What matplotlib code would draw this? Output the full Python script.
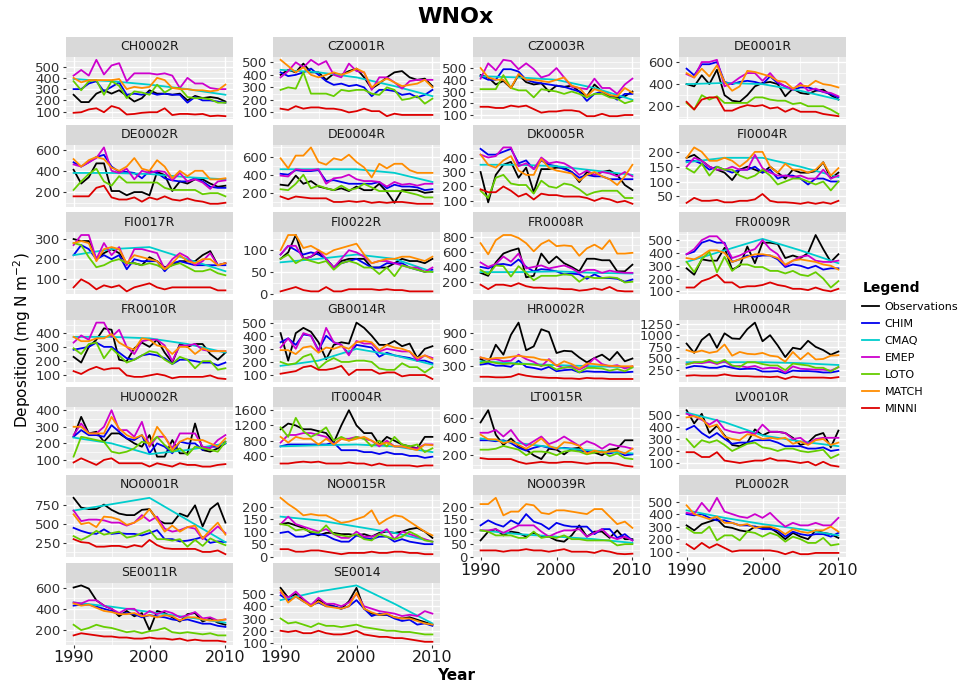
import matplotlib
matplotlib.use('Agg')
import matplotlib.pyplot as plt
from matplotlib.lines import Line2D

years = list(range(1990, 2011))
cmaq_years = [1990, 1995, 2000, 2005, 2010]

series = ['Observations', 'CHIM', 'CMAQ', 'EMEP', 'LOTO', 'MATCH', 'MINNI']
keys = ['obs', 'chim', 'cmaq', 'emep', 'loto', 'match', 'minni']
colors = ['black', '#0000EE', '#00CDCD', '#CD00CD', '#66CD00', '#FF8C00', '#DD0000']

CH0002R = dict(
    obs=[250, 185, 185, 260, 290, 260, 290, 240, 190, 220, 290, 260, 260, 250, 260, 200, 240, 220, 230, 220, 190],
    chim=[300, 300, 350, 370, 280, 320, 360, 250, 260, 250, 270, 250, 260, 250, 250, 180, 230, 200, 200, 190, 180],
    cmaq=[390, 370, 340, 300, 250],
    emep=[420, 470, 420, 560, 430, 510, 530, 370, 440, 440, 440, 430, 440, 420, 310, 400, 350, 350, 310, 300, 300],
    loto=[370, 290, 370, 380, 250, 370, 330, 220, 280, 270, 250, 340, 270, 310, 310, 230, 220, 220, 210, 180, 180],
    match=[400, 360, 380, 380, 380, 380, 390, 300, 320, 310, 320, 400, 380, 310, 300, 300, 290, 290, 280, 290, 340],
    minni=[90, 95, 120, 130, 95, 150, 130, 75, 80, 90, 95, 95, 130, 70, 80, 80, 75, 80, 60, 65, 60])
CZ0001R = dict(
    obs=[400, 440, 420, 490, 420, 420, 360, 410, 400, 430, 450, 380, 290, 330, 380, 420, 430, 380, 360, 370, 310],
    chim=[420, 390, 400, 420, 450, 400, 350, 320, 330, 310, 320, 300, 230, 280, 280, 270, 240, 250, 220, 240, 280],
    cmaq=[440, 420, 380, 310, 230],
    emep=[380, 430, 500, 460, 520, 480, 510, 400, 380, 490, 430, 420, 280, 380, 380, 340, 290, 350, 360, 360, 360],
    loto=[280, 300, 290, 420, 250, 250, 250, 230, 280, 270, 280, 280, 250, 240, 300, 280, 200, 210, 230, 170, 210],
    match=[520, 470, 420, 460, 400, 380, 400, 420, 400, 420, 450, 420, 300, 340, 370, 340, 310, 320, 330, 360, 300],
    minni=[130, 120, 150, 130, 140, 140, 130, 130, 120, 100, 110, 130, 110, 110, 70, 90, 80, 80, 80, 80, 80])
CZ0003R = dict(
    obs=[440, 420, 360, 390, 330, 440, 380, 360, 370, 300, 350, 340, 350, 300, 260, 360, 300, 260, 250, 260, 300],
    chim=[430, 400, 400, 490, 490, 470, 400, 380, 370, 360, 350, 340, 320, 300, 220, 280, 300, 270, 230, 280, 280],
    cmaq=[430, 420, 400, 330, 230],
    emep=[410, 540, 480, 570, 560, 490, 540, 490, 420, 440, 500, 420, 340, 330, 320, 410, 330, 330, 280, 360, 410],
    loto=[320, 320, 320, 440, 330, 310, 310, 250, 320, 310, 300, 280, 300, 280, 250, 280, 280, 250, 240, 200, 220],
    match=[500, 420, 400, 400, 330, 450, 400, 400, 390, 380, 400, 420, 350, 330, 260, 320, 300, 270, 260, 330, 290],
    minni=[170, 170, 160, 160, 180, 170, 180, 150, 120, 130, 130, 140, 140, 130, 90, 90, 110, 90, 90, 100, 100])
DE0001R = dict(
    obs=[400, 380, 480, 400, 530, 300, 250, 240, 300, 380, 410, 420, 400, 290, 360, 320, 310, 340, 350, 300, 260],
    chim=[540, 480, 580, 580, 600, 420, 400, 420, 430, 420, 400, 470, 410, 380, 350, 370, 370, 350, 330, 310, 280],
    cmaq=[400, 410, 400, 340, 260],
    emep=[490, 460, 600, 600, 620, 380, 410, 460, 500, 500, 430, 500, 420, 380, 350, 410, 340, 360, 330, 320, 290],
    loto=[230, 170, 300, 260, 290, 230, 230, 230, 230, 280, 280, 260, 250, 250, 220, 230, 200, 200, 200, 170, 130],
    match=[500, 460, 540, 470, 570, 420, 340, 380, 520, 510, 490, 470, 430, 420, 360, 390, 380, 430, 400, 390, 370],
    minni=[240, 170, 260, 280, 280, 160, 160, 190, 210, 200, 210, 180, 190, 150, 180, 150, 150, 150, 130, 120, 110])
DE0002R = dict(
    obs=[410, 280, 340, 470, 470, 210, 210, 170, 200, 200, 170, 390, 360, 210, 300, 280, 320, 320, 280, 250, 260],
    chim=[480, 440, 480, 530, 550, 440, 390, 390, 380, 330, 400, 380, 330, 310, 300, 300, 330, 300, 250, 240, 240],
    cmaq=[380, 380, 370, 340, 320],
    emep=[460, 440, 480, 520, 620, 400, 380, 420, 320, 400, 380, 400, 390, 310, 380, 300, 320, 290, 230, 300, 310],
    loto=[220, 300, 370, 420, 300, 260, 350, 290, 290, 290, 290, 290, 240, 220, 220, 220, 220, 180, 190, 190, 160],
    match=[510, 440, 500, 530, 510, 430, 400, 440, 520, 420, 400, 500, 440, 330, 400, 350, 400, 400, 320, 320, 330],
    minni=[160, 160, 160, 240, 260, 150, 130, 130, 150, 110, 150, 130, 160, 130, 120, 140, 120, 110, 90, 90, 100])
DE0004R = dict(
    obs=[290, 280, 390, 300, 330, 270, 250, 230, 250, 220, 270, 230, 230, 300, 210, 90, 230, 230, 230, 200, 210],
    chim=[410, 400, 450, 440, 440, 450, 330, 340, 320, 300, 300, 300, 300, 320, 250, 290, 270, 270, 260, 230, 240],
    cmaq=[460, 460, 460, 420, 320],
    emep=[390, 380, 460, 450, 450, 460, 300, 360, 370, 400, 350, 330, 330, 320, 270, 320, 290, 300, 280, 300, 300],
    loto=[240, 230, 300, 400, 250, 280, 250, 230, 280, 230, 250, 300, 260, 220, 220, 220, 220, 200, 180, 150, 150],
    match=[580, 470, 610, 610, 700, 540, 510, 580, 560, 620, 540, 480, 370, 520, 470, 520, 520, 450, 420, 420, 420],
    minni=[160, 130, 160, 150, 140, 140, 140, 100, 100, 110, 100, 110, 90, 100, 90, 100, 100, 90, 80, 80, 80])
DK0005R = dict(
    obs=[300, 90, 280, 350, 370, 260, 330, 160, 320, 320, 330, 330, 300, 230, 300, 280, 300, 310, 280, 210, 175],
    chim=[460, 420, 420, 440, 460, 360, 380, 320, 380, 350, 340, 320, 300, 260, 280, 270, 270, 250, 250, 250, 250],
    cmaq=[350, 350, 340, 310, 280],
    emep=[420, 400, 410, 470, 470, 340, 360, 320, 400, 360, 370, 360, 330, 280, 310, 280, 300, 290, 270, 300, 270],
    loto=[170, 120, 260, 280, 220, 210, 210, 150, 240, 200, 190, 220, 210, 180, 140, 160, 170, 170, 170, 120, 120],
    match=[420, 350, 330, 380, 410, 310, 280, 280, 390, 330, 310, 300, 290, 240, 280, 300, 270, 250, 210, 270, 350],
    minni=[180, 160, 160, 200, 170, 130, 150, 110, 150, 140, 140, 130, 130, 130, 120, 100, 120, 110, 90, 100, 80])
FI0004R = dict(
    obs=[180, 190, 170, 150, 140, 130, 105, 140, 150, 140, 130, 150, 130, 110, 140, 130, 130, 135, 165, 110, 130],
    chim=[170, 170, 160, 140, 150, 140, 130, 140, 140, 150, 130, 140, 110, 120, 120, 110, 90, 110, 110, 100, 100],
    cmaq=[165, 180, 180, 150, 115],
    emep=[150, 180, 170, 150, 140, 140, 150, 140, 140, 190, 145, 130, 120, 120, 115, 120, 110, 110, 140, 110, 120],
    loto=[145, 130, 160, 120, 150, 140, 140, 120, 110, 120, 140, 120, 90, 100, 110, 110, 100, 90, 100, 70, 100],
    match=[180, 215, 200, 170, 170, 180, 170, 150, 170, 200, 200, 150, 130, 160, 140, 140, 130, 140, 165, 120, 145],
    minni=[28, 45, 35, 35, 38, 30, 30, 35, 35, 40, 58, 35, 30, 30, 28, 25, 30, 25, 30, 25, 35])
FI0017R = dict(
    obs=[300, 290, 290, 200, 230, 250, 230, 180, 180, 170, 210, 190, 160, 170, 190, 190, 190, 220, 240, 170, 180],
    chim=[220, 270, 250, 200, 220, 200, 220, 150, 200, 190, 190, 190, 140, 180, 190, 180, 170, 170, 170, 170, 170],
    cmaq=[220, 250, 260, 200, 140],
    emep=[270, 320, 320, 200, 280, 220, 260, 170, 250, 250, 240, 230, 150, 200, 230, 210, 170, 190, 230, 170, 180],
    loto=[280, 270, 210, 160, 170, 190, 200, 180, 180, 170, 180, 170, 150, 170, 180, 160, 140, 140, 150, 130, 120],
    match=[280, 290, 280, 190, 250, 260, 250, 180, 220, 210, 200, 190, 150, 180, 220, 190, 180, 200, 200, 170, 180],
    minni=[60, 100, 80, 50, 70, 60, 70, 40, 60, 70, 80, 60, 50, 60, 60, 60, 60, 60, 60, 45, 45])
FI0022R = dict(
    obs=[80, 95, 135, 80, 85, 95, 80, 60, 75, 80, 80, 80, 60, 60, 60, 70, 80, 75, 75, 70, 80],
    chim=[90, 110, 100, 90, 95, 90, 80, 60, 70, 75, 80, 70, 60, 60, 70, 70, 70, 60, 55, 50, 55],
    cmaq=[72, 80, 90, 80, 50],
    emep=[90, 110, 110, 80, 85, 100, 80, 60, 80, 100, 95, 85, 70, 75, 75, 70, 65, 60, 60, 50, 60],
    loto=[80, 90, 70, 80, 75, 70, 75, 55, 70, 75, 70, 60, 60, 45, 60, 40, 65, 60, 55, 50, 50],
    match=[100, 135, 135, 105, 110, 100, 90, 100, 105, 110, 115, 90, 70, 75, 80, 80, 85, 85, 80, 75, 85],
    minni=[5, 10, 15, 8, 5, 5, 15, 5, 5, 10, 10, 10, 10, 8, 10, 8, 8, 5, 5, 5, 5])
FR0008R = dict(
    obs=[320, 280, 460, 580, 620, 650, 260, 280, 580, 450, 540, 450, 400, 340, 510, 510, 490, 490, 340, 340, 430],
    chim=[400, 380, 430, 440, 420, 500, 400, 340, 370, 360, 340, 300, 310, 300, 240, 300, 250, 250, 240, 200, 230],
    cmaq=[330, 330, 340, 320, 310],
    emep=[460, 400, 440, 540, 470, 580, 380, 400, 420, 380, 400, 420, 380, 320, 360, 360, 320, 350, 330, 320, 320],
    loto=[360, 300, 420, 410, 270, 410, 320, 220, 280, 280, 280, 300, 290, 200, 270, 250, 250, 260, 250, 190, 200],
    match=[720, 570, 760, 830, 830, 790, 720, 610, 710, 760, 680, 690, 680, 550, 650, 700, 640, 760, 580, 580, 590],
    minni=[160, 100, 160, 160, 140, 180, 140, 120, 120, 110, 110, 100, 100, 80, 90, 110, 90, 130, 80, 70, 70])
FR0009R = dict(
    obs=[280, 230, 350, 340, 340, 440, 270, 300, 450, 320, 480, 480, 470, 360, 380, 360, 400, 540, 430, 330, 390],
    chim=[390, 410, 480, 500, 480, 480, 330, 350, 380, 370, 380, 380, 350, 290, 310, 300, 280, 300, 270, 280, 280],
    cmaq=[330, 420, 510, 420, 320],
    emep=[390, 430, 500, 530, 530, 470, 360, 380, 410, 430, 500, 430, 390, 300, 340, 370, 380, 340, 330, 330, 340],
    loto=[330, 250, 350, 410, 250, 370, 260, 310, 310, 290, 290, 260, 260, 240, 260, 230, 220, 250, 200, 130, 180],
    match=[360, 350, 380, 420, 420, 400, 330, 350, 370, 390, 390, 380, 360, 310, 340, 350, 340, 330, 310, 300, 270],
    minni=[130, 130, 180, 200, 230, 170, 170, 130, 140, 140, 150, 170, 150, 140, 120, 120, 110, 130, 110, 100, 120])
FR0010R = dict(
    obs=[230, 190, 300, 350, 430, 420, 210, 200, 290, 330, 300, 350, 260, 190, 320, 300, 320, 320, 250, 210, 260],
    chim=[280, 290, 300, 330, 300, 300, 260, 220, 210, 240, 250, 240, 220, 180, 210, 210, 200, 190, 190, 170, 190],
    cmaq=[370, 370, 360, 320, 260],
    emep=[330, 380, 350, 470, 470, 370, 420, 300, 250, 340, 350, 350, 310, 200, 310, 310, 320, 280, 270, 270, 270],
    loto=[290, 250, 320, 330, 220, 290, 240, 190, 210, 240, 270, 260, 210, 180, 230, 210, 150, 200, 200, 140, 150],
    match=[370, 340, 340, 360, 360, 390, 330, 300, 280, 360, 350, 310, 300, 250, 300, 300, 250, 290, 270, 270, 270],
    minni=[130, 110, 140, 160, 140, 150, 150, 100, 90, 90, 100, 110, 100, 80, 90, 90, 90, 90, 100, 80, 75])
GB0014R = dict(
    obs=[420, 210, 420, 460, 430, 350, 220, 330, 350, 340, 500, 460, 400, 330, 330, 360, 320, 340, 230, 300, 320],
    chim=[350, 380, 330, 410, 400, 290, 400, 350, 330, 260, 330, 320, 310, 240, 270, 250, 240, 230, 210, 210, 190],
    cmaq=[170, 210, 300, 250, 180],
    emep=[310, 380, 300, 420, 400, 280, 460, 350, 330, 250, 360, 340, 340, 280, 300, 290, 280, 280, 210, 250, 230],
    loto=[200, 180, 190, 240, 260, 150, 200, 230, 200, 200, 210, 210, 200, 150, 140, 140, 190, 160, 160, 120, 160],
    match=[290, 290, 260, 310, 320, 270, 310, 300, 320, 300, 350, 360, 350, 290, 330, 310, 300, 280, 230, 250, 220],
    minni=[110, 120, 130, 160, 170, 140, 140, 150, 170, 100, 140, 140, 140, 110, 120, 120, 90, 100, 100, 100, 70])
HR0002R = dict(
    obs=[420, 350, 680, 500, 860, 1080, 580, 650, 960, 910, 530, 570, 560, 450, 360, 440, 500, 400, 550, 380, 430],
    chim=[320, 340, 300, 300, 280, 390, 280, 260, 230, 280, 200, 220, 230, 180, 200, 190, 190, 180, 180, 180, 190],
    cmaq=[380, 340, 310, 290, 270],
    emep=[450, 410, 420, 380, 390, 500, 420, 370, 290, 420, 300, 260, 290, 230, 300, 440, 330, 290, 310, 250, 290],
    loto=[350, 380, 350, 330, 340, 330, 330, 320, 300, 310, 230, 270, 270, 180, 260, 260, 250, 210, 240, 200, 270],
    match=[450, 420, 440, 440, 460, 480, 460, 450, 410, 400, 300, 380, 330, 250, 340, 330, 310, 300, 290, 290, 290],
    minni=[100, 100, 90, 90, 100, 150, 120, 100, 90, 80, 80, 70, 70, 60, 80, 70, 70, 60, 60, 60, 60])
HR0004R = dict(
    obs=[820, 620, 900, 1030, 730, 1040, 930, 920, 1130, 1270, 870, 1000, 780, 530, 730, 700, 880, 750, 680, 580, 650],
    chim=[300, 340, 330, 300, 300, 340, 300, 270, 280, 280, 220, 220, 230, 180, 240, 230, 230, 220, 200, 200, 230],
    cmaq=[420, 420, 420, 400, 360],
    emep=[380, 410, 400, 430, 380, 440, 330, 340, 310, 340, 280, 300, 290, 200, 330, 280, 270, 260, 260, 240, 310],
    loto=[370, 420, 420, 470, 400, 470, 350, 320, 420, 420, 380, 350, 350, 250, 390, 370, 350, 300, 300, 220, 320],
    match=[680, 630, 670, 620, 650, 800, 560, 640, 600, 590, 620, 560, 540, 430, 640, 480, 620, 480, 490, 560, 570],
    minni=[130, 140, 130, 130, 130, 160, 130, 120, 120, 110, 110, 100, 110, 60, 110, 90, 90, 90, 90, 80, 100])
HU0002R = dict(
    obs=[240, 360, 260, 270, 210, 260, 260, 230, 200, 180, 250, 120, 120, 220, 140, 140, 320, 160, 150, 170, 200],
    chim=[240, 280, 250, 250, 240, 310, 270, 230, 220, 250, 140, 200, 180, 140, 210, 200, 200, 160, 180, 180, 210],
    cmaq=[235, 200, 135, 160, 200],
    emep=[250, 320, 260, 260, 300, 400, 280, 280, 240, 330, 180, 240, 240, 170, 260, 260, 260, 180, 170, 220, 250],
    loto=[120, 240, 230, 220, 210, 150, 140, 150, 170, 210, 200, 240, 190, 150, 170, 130, 180, 170, 160, 150, 210],
    match=[300, 300, 260, 260, 260, 360, 290, 250, 230, 250, 190, 300, 240, 160, 210, 230, 220, 220, 200, 180, 230],
    minni=[85, 110, 90, 70, 100, 110, 80, 80, 80, 80, 60, 80, 70, 60, 80, 70, 70, 60, 60, 70, 75])
IT0004R = dict(
    obs=[1100, 1250, 1200, 1100, 1100, 1050, 1000, 750, 1200, 1600, 1200, 1000, 1000, 700, 900, 800, 700, 650, 600, 900, 900],
    chim=[650, 700, 700, 700, 700, 700, 700, 750, 550, 550, 550, 500, 500, 450, 500, 450, 450, 400, 400, 350, 380],
    cmaq=[650, 680, 700, 650, 500],
    emep=[750, 950, 950, 1000, 1000, 950, 900, 700, 850, 850, 900, 850, 800, 650, 800, 650, 650, 600, 600, 700, 700],
    loto=[1150, 900, 1400, 1050, 900, 1000, 1150, 800, 900, 800, 900, 850, 650, 800, 650, 900, 700, 650, 700, 500, 600],
    match=[900, 750, 900, 850, 850, 700, 850, 700, 850, 800, 850, 900, 800, 700, 750, 650, 650, 600, 550, 700, 680],
    minni=[200, 200, 230, 250, 230, 250, 200, 200, 200, 230, 200, 200, 150, 200, 150, 150, 150, 150, 120, 150, 150])
LT0015R = dict(
    obs=[550, 680, 420, 310, 380, 300, 260, 200, 160, 270, 260, 210, 270, 280, 230, 230, 200, 260, 270, 360, 360],
    chim=[360, 360, 350, 360, 330, 280, 250, 280, 300, 280, 270, 280, 270, 250, 240, 240, 230, 220, 240, 200, 210],
    cmaq=[380, 330, 280, 250, 220],
    emep=[440, 440, 470, 400, 470, 360, 300, 350, 400, 320, 350, 400, 350, 300, 350, 320, 270, 320, 300, 290, 270],
    loto=[260, 260, 270, 300, 280, 260, 200, 240, 240, 230, 200, 240, 250, 240, 210, 230, 240, 190, 220, 170, 160],
    match=[420, 370, 370, 330, 350, 310, 270, 320, 380, 300, 270, 340, 330, 300, 220, 250, 230, 240, 250, 220, 270],
    minni=[170, 160, 160, 160, 160, 130, 110, 120, 130, 120, 120, 130, 130, 120, 110, 120, 120, 120, 110, 90, 80])
LV0010R = dict(
    obs=[540, 430, 510, 350, 410, 330, 250, 240, 270, 380, 330, 360, 360, 350, 310, 250, 270, 330, 350, 230, 370],
    chim=[380, 410, 350, 310, 350, 300, 260, 270, 270, 290, 290, 290, 270, 240, 240, 240, 220, 220, 230, 200, 210],
    cmaq=[520, 440, 330, 280, 240],
    emep=[510, 490, 460, 420, 460, 380, 360, 350, 360, 340, 420, 360, 360, 350, 300, 310, 260, 300, 310, 310, 310],
    loto=[300, 230, 290, 270, 290, 250, 200, 230, 260, 270, 230, 220, 200, 220, 220, 200, 190, 200, 210, 140, 170],
    match=[480, 490, 470, 400, 420, 320, 300, 290, 340, 330, 300, 310, 300, 310, 260, 280, 250, 290, 300, 250, 270],
    minni=[190, 190, 150, 150, 190, 120, 110, 100, 110, 120, 120, 140, 120, 120, 110, 100, 110, 80, 110, 80, 70])
NO0001R = dict(
    obs=[850, 720, 700, 700, 760, 690, 640, 620, 620, 690, 700, 560, 510, 510, 640, 600, 750, 470, 700, 780, 520],
    chim=[450, 410, 380, 370, 430, 370, 380, 370, 370, 350, 380, 420, 300, 300, 270, 280, 300, 330, 250, 270, 260],
    cmaq=[680, 765, 850, 555, 260],
    emep=[680, 540, 560, 560, 550, 520, 520, 480, 520, 620, 540, 600, 440, 400, 420, 460, 440, 300, 380, 470, 380],
    loto=[340, 290, 340, 410, 360, 380, 400, 320, 340, 380, 420, 300, 300, 280, 300, 200, 290, 210, 310, 260, 220],
    match=[630, 500, 520, 460, 600, 590, 560, 490, 520, 580, 700, 560, 400, 480, 400, 460, 480, 310, 420, 520, 360],
    minni=[300, 260, 250, 200, 200, 210, 210, 190, 220, 200, 290, 220, 180, 170, 170, 170, 170, 130, 130, 150, 100])
NO0015R = dict(
    obs=[130, 135, 125, 115, 95, 85, 95, 95, 90, 90, 85, 90, 80, 95, 100, 95, 100, 110, 115, 100, 75],
    chim=[95, 100, 80, 80, 90, 90, 85, 70, 60, 60, 85, 75, 70, 80, 80, 60, 70, 60, 55, 50, 50],
    cmaq=[160, 145, 120, 95, 60],
    emep=[130, 160, 130, 120, 110, 100, 110, 90, 75, 75, 100, 80, 80, 90, 110, 70, 100, 90, 80, 70, 60],
    loto=[130, 125, 105, 110, 100, 95, 125, 90, 85, 80, 90, 70, 65, 90, 80, 70, 80, 100, 85, 65, 60],
    match=[235, 210, 190, 165, 170, 165, 165, 150, 135, 140, 150, 160, 185, 130, 150, 165, 160, 140, 120, 100, 85],
    minni=[30, 30, 20, 20, 25, 25, 20, 15, 10, 15, 15, 15, 20, 15, 15, 20, 20, 15, 15, 10, 10])
NO0039R = dict(
    obs=[65, 100, 110, 85, 100, 95, 80, 95, 80, 80, 65, 60, 85, 125, 80, 100, 100, 75, 105, 70, 70],
    chim=[125, 145, 130, 120, 145, 130, 170, 140, 130, 110, 135, 125, 120, 120, 120, 90, 110, 110, 75, 90, 65],
    cmaq=[105, 90, 80, 70, 55],
    emep=[105, 105, 110, 95, 110, 125, 125, 125, 100, 80, 95, 105, 105, 110, 80, 95, 110, 80, 70, 80, 65],
    loto=[105, 100, 85, 85, 85, 75, 75, 100, 75, 80, 75, 85, 70, 70, 65, 65, 65, 65, 45, 50, 50],
    match=[210, 210, 235, 165, 180, 180, 210, 205, 175, 170, 185, 185, 180, 175, 170, 190, 190, 160, 130, 140, 115],
    minni=[25, 25, 25, 20, 25, 25, 30, 25, 25, 20, 25, 30, 20, 20, 20, 15, 25, 20, 12, 10, 12])
PL0002R = dict(
    obs=[310, 270, 320, 340, 360, 300, 290, 270, 260, 300, 290, 290, 250, 200, 250, 220, 200, 270, 250, 240, 210],
    chim=[400, 390, 400, 370, 350, 350, 330, 310, 310, 300, 280, 280, 270, 220, 260, 240, 230, 240, 240, 220, 250],
    cmaq=[430, 370, 320, 280, 230],
    emep=[410, 400, 490, 420, 530, 420, 400, 380, 370, 400, 370, 410, 350, 300, 330, 310, 310, 330, 310, 310, 370],
    loto=[290, 250, 250, 300, 190, 230, 230, 190, 260, 250, 220, 250, 230, 180, 220, 200, 170, 170, 210, 150, 160],
    match=[470, 400, 380, 360, 380, 330, 330, 310, 320, 290, 300, 300, 280, 240, 280, 260, 250, 270, 270, 300, 260],
    minni=[160, 120, 170, 130, 160, 130, 100, 110, 110, 110, 110, 110, 100, 80, 100, 80, 80, 90, 90, 90, 90])
SE0011R = dict(
    obs=[600, 620, 590, 480, 430, 400, 330, 380, 330, 360, 200, 380, 360, 320, 280, 350, 360, 280, 310, 270, 250],
    chim=[430, 440, 440, 420, 400, 380, 350, 360, 350, 320, 340, 330, 320, 300, 290, 300, 280, 260, 260, 240, 230],
    cmaq=[460, 420, 370, 320, 270],
    emep=[460, 450, 480, 480, 430, 400, 360, 400, 400, 330, 380, 350, 380, 360, 320, 340, 370, 310, 320, 290, 300],
    loto=[250, 200, 220, 250, 230, 220, 200, 180, 190, 170, 190, 200, 220, 180, 170, 180, 170, 160, 170, 150, 150],
    match=[450, 430, 440, 410, 380, 370, 350, 350, 360, 330, 340, 320, 340, 330, 290, 320, 320, 300, 290, 290, 300],
    minni=[150, 170, 160, 150, 140, 140, 130, 130, 120, 120, 130, 120, 120, 110, 120, 100, 110, 100, 100, 100, 90])
SE0014 = dict(
    obs=[550, 470, 500, 450, 400, 450, 420, 400, 380, 440, 550, 380, 340, 330, 330, 310, 300, 310, 290, 270, 250],
    chim=[490, 450, 480, 440, 410, 430, 400, 400, 380, 400, 450, 380, 320, 340, 330, 300, 280, 290, 250, 260, 240],
    cmaq=[450, 520, 570, 420, 260],
    emep=[510, 470, 520, 460, 410, 470, 420, 420, 400, 430, 500, 400, 380, 360, 350, 340, 320, 330, 320, 360, 340],
    loto=[300, 260, 270, 250, 230, 260, 240, 240, 230, 240, 250, 230, 220, 210, 200, 200, 190, 190, 180, 170, 170],
    match=[530, 430, 480, 440, 400, 440, 400, 390, 380, 400, 510, 380, 350, 330, 340, 310, 300, 300, 280, 260, 250],
    minni=[200, 190, 200, 180, 180, 200, 180, 170, 170, 180, 200, 170, 160, 150, 150, 140, 140, 130, 120, 110, 110])

stations = [
    ('CH0002R', CH0002R, [100, 200, 300, 400, 500]),
    ('CZ0001R', CZ0001R, [100, 200, 300, 400, 500]),
    ('CZ0003R', CZ0003R, [100, 200, 300, 400, 500]),
    ('DE0001R', DE0001R, [200, 400, 600]),
    ('DE0002R', DE0002R, [200, 400, 600]),
    ('DE0004R', DE0004R, [200, 400, 600]),
    ('DK0005R', DK0005R, [100, 200, 300, 400]),
    ('FI0004R', FI0004R, [50, 100, 150, 200]),
    ('FI0017R', FI0017R, [100, 200, 300]),
    ('FI0022R', FI0022R, [0, 50, 100]),
    ('FR0008R', FR0008R, [200, 400, 600, 800]),
    ('FR0009R', FR0009R, [100, 200, 300, 400, 500]),
    ('FR0010R', FR0010R, [100, 200, 300, 400]),
    ('GB0014R', GB0014R, [100, 200, 300, 400, 500]),
    ('HR0002R', HR0002R, [300, 600, 900]),
    ('HR0004R', HR0004R, [250, 500, 750, 1000, 1250]),
    ('HU0002R', HU0002R, [100, 200, 300, 400]),
    ('IT0004R', IT0004R, [400, 800, 1200, 1600]),
    ('LT0015R', LT0015R, [200, 400, 600]),
    ('LV0010R', LV0010R, [100, 200, 300, 400, 500]),
    ('NO0001R', NO0001R, [250, 500, 750]),
    ('NO0015R', NO0015R, [0, 50, 100, 150, 200]),
    ('NO0039R', NO0039R, [0, 50, 100, 150, 200]),
    ('PL0002R', PL0002R, [100, 200, 300, 400, 500]),
    ('SE0011R', SE0011R, [200, 400, 600]),
    ('SE0014', SE0014, [100, 200, 300, 400, 500]),
]

W, H = 960, 684
fig = plt.figure(figsize=(W / 100, H / 100), dpi=100)


def px_axes(x, y, w, h):
    return fig.add_axes([x / W, 1 - (y + h) / H, w / W, h / H])


col_x = [66, 273, 473, 679]
pw, sh, ph = 167, 20, 62
row_y = [37 + 87.6 * i for i in range(7)]
n = len(stations)

for i, (name, d, ticks) in enumerate(stations):
    r, c = divmod(i, 4)
    strip = px_axes(col_x[c], row_y[r], pw, sh)
    strip.set_facecolor('#D9D9D9')
    strip.set_xticks([])
    strip.set_yticks([])
    for s in strip.spines.values():
        s.set_visible(False)
    strip.text(0.5, 0.5, name, ha='center', va='center', fontsize=9, color='#1A1A1A',
               transform=strip.transAxes)

    ax = px_axes(col_x[c], row_y[r] + sh, pw, ph)
    ax.set_facecolor('#EBEBEB')
    allv = []
    for k, col in zip(keys, colors):
        vals = d[k]
        xs = cmaq_years if k == 'cmaq' else years
        if len(vals) != len(xs):
            print('length mismatch', name, k, len(vals))
        ax.plot(xs[:len(vals)], vals, color=col, lw=1.3, solid_joinstyle='round')
        allv += vals
    lo, hi = min(allv), max(allv)
    pad = 0.05 * (hi - lo)
    ylo, yhi = lo - pad, hi + pad
    ax.set_ylim(ylo, yhi)
    ax.set_xlim(1989, 2011)
    step = ticks[1] - ticks[0]
    ax.set_yticks([t for t in ticks if ylo <= t <= yhi])
    minor = [t - step / 2 for t in ticks] + [ticks[-1] + step / 2]
    ax.set_yticks([m for m in minor if ylo <= m <= yhi], minor=True)
    ax.set_xticks([1990, 2000, 2010])
    ax.set_xticks([1995, 2005], minor=True)
    ax.set_ylim(ylo, yhi)
    ax.grid(which='major', color='white', lw=1.0)
    ax.grid(which='minor', color='white', lw=0.5)
    ax.set_axisbelow(True)
    for s in ax.spines.values():
        s.set_visible(False)
    ax.tick_params(axis='y', which='major', length=2.5, width=0.8, color='#333333',
                   labelsize=9.5, labelcolor='#333333', pad=1.5)
    ax.tick_params(axis='y', which='minor', length=0)
    below = i + 4 < n
    if below:
        ax.tick_params(axis='x', which='both', length=0, labelbottom=False)
    else:
        ax.tick_params(axis='x', which='major', length=2.5, width=0.8, color='#333333',
                       labelsize=11.5, labelcolor='#1A1A1A', pad=1.5)
        ax.tick_params(axis='x', which='minor', length=0)

fig.text(456 / W, 1 - 17 / H, 'WNOx', ha='center', va='center', fontsize=16, weight='bold')
fig.text(456 / W, 1 - 675 / H, 'Year', ha='center', va='center', fontsize=11, weight='bold')
fig.text(22 / W, 1 - 340 / H, 'Deposition (mg N m$^{-2}$)', rotation=90,
         ha='center', va='center', fontsize=11)

handles = [Line2D([], [], color=col, lw=1.3) for col in colors]
fig.legend(handles, series, title='Legend', loc='upper left',
           bbox_to_anchor=(858 / W, 1 - 277 / H), frameon=False, fontsize=8,
           title_fontproperties={'weight': 'bold', 'size': 10}, handlelength=1.5,
           handletextpad=0.5, labelspacing=0.62, alignment='left', borderaxespad=0)

fig.savefig('out.png', dpi=100)
